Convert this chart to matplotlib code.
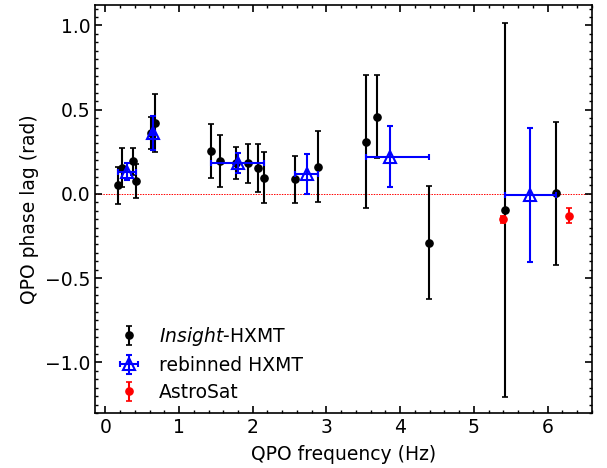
import numpy as np
import matplotlib
matplotlib.use("Agg")
import matplotlib.pyplot as plt
from matplotlib.ticker import MultipleLocator

# Insight-HXMT QPO phase lags
hxmt_freq = [0.17, 0.23, 0.38, 0.42, 0.62, 0.68, 1.43, 1.55, 1.77, 1.94,
             2.07, 2.15, 2.58, 2.89, 3.53, 3.69, 4.39, 5.42, 6.11]
hxmt_lag = [0.05, 0.155, 0.195, 0.077, 0.36, 0.42, 0.255, 0.196, 0.182, 0.182,
            0.156, 0.097, 0.087, 0.162, 0.31, 0.458, -0.289, -0.095, 0.004]
hxmt_err = [0.11, 0.115, 0.08, 0.10, 0.095, 0.17, 0.16, 0.155, 0.095, 0.117,
            0.142, 0.152, 0.14, 0.21, 0.395, 0.245, 0.335, 1.11, 0.425]

# rebinned HXMT
reb_freq = [0.30, 0.65, 1.80, 2.73, 3.86, 5.76]
reb_lag = [0.132, 0.36, 0.182, 0.117, 0.22, -0.006]
reb_xlo = [0.13, 0.03, 0.37, 0.15, 0.33, 0.34]
reb_xhi = [0.12, 0.03, 0.35, 0.16, 0.53, 0.35]
reb_err = [0.05, 0.10, 0.06, 0.12, 0.18, 0.40]

# AstroSat
astro_freq = [5.39, 6.29]
astro_lag = [-0.15, -0.13]
astro_err = [0.02, 0.045]

plt.rcParams['font.size'] = 13.5

fig = plt.figure(figsize=(6.07, 4.68), dpi=100)
ax = fig.add_axes([0.1565, 0.1175, 0.8185, 0.8715])

ax.axhline(0, color='red', lw=0.7, ls=(0, (1.5, 1.2)), zorder=1)

ax.errorbar(hxmt_freq, hxmt_lag, yerr=hxmt_err, fmt='o', color='black',
            ms=5.2, elinewidth=1.5, capsize=2, capthick=1.2,
            label=r'$\mathit{Insight}$-HXMT', zorder=3)
ax.errorbar(reb_freq, reb_lag, xerr=[reb_xlo, reb_xhi], yerr=reb_err, fmt='^',
            color='blue', mfc='none', mec='blue', mew=1.5, ms=8,
            elinewidth=1.5, capsize=2, capthick=1.2,
            label='rebinned HXMT', zorder=4)
ax.errorbar(astro_freq, astro_lag, yerr=astro_err, fmt='o', color='red',
            ms=5.2, elinewidth=1.5, capsize=2, capthick=1.2,
            label='AstroSat', zorder=3)

ax.set_xlim(-0.14, 6.6)
ax.set_ylim(-1.3, 1.12)
ax.xaxis.set_major_locator(MultipleLocator(1))
ax.xaxis.set_minor_locator(MultipleLocator(0.2))
ax.yaxis.set_major_locator(MultipleLocator(0.5))
ax.yaxis.set_minor_locator(MultipleLocator(0.05))
ax.tick_params(which='both', direction='in', top=True, right=True)
ax.tick_params(which='major', length=5, width=1.2)
ax.tick_params(which='minor', length=2.5, width=1)
for s in ax.spines.values():
    s.set_linewidth(1.2)

ax.set_xlabel('QPO frequency (Hz)', labelpad=6)
ax.set_ylabel('QPO phase lag (rad)')
ax.legend(loc='lower left', bbox_to_anchor=(0.008, 0.0), frameon=False,
          handletextpad=0.6, borderaxespad=0.2, labelspacing=0.42)

fig.savefig('out.png', dpi=100)
